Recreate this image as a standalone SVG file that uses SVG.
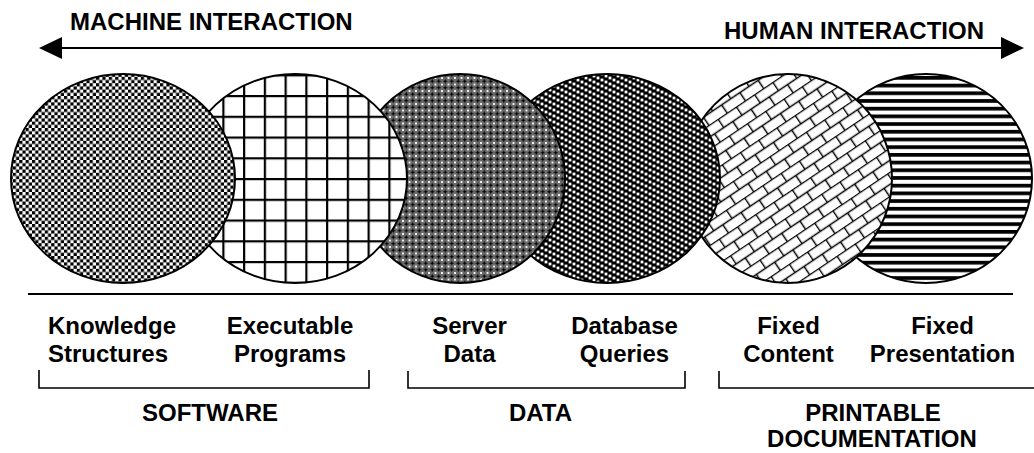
<svg xmlns="http://www.w3.org/2000/svg" width="1034" height="453" viewBox="0 0 1034 453">
<style>
text { font-family: "Liberation Sans", Arial, sans-serif; font-weight: bold; font-size: 24px; fill: #000; }
.mid { text-anchor: middle; }
.disc { stroke: #000; stroke-width: 2; }
.rule { stroke: #000; stroke-width: 2; fill: none; }
.brk { stroke: #000; stroke-width: 1.6; fill: none; }
</style>
<defs>
<marker id="ah" markerUnits="userSpaceOnUse" markerWidth="23" markerHeight="22" viewBox="0 0 23 22" refX="17" refY="11" orient="auto-start-reverse">
<path d="M0,0 L23,11 L0,22 Z" fill="#000"/>
</marker>
<pattern id="pChecker" patternUnits="userSpaceOnUse" x="0" y="0" width="6.4" height="6.4">
<rect width="6.4" height="6.4" fill="#fff"/>
<rect width="3.2" height="3.2" fill="#000"/>
<rect x="3.2" y="3.2" width="3.2" height="3.2" fill="#000"/>
</pattern>
<pattern id="pGrid" patternUnits="userSpaceOnUse" x="222.3" y="95" width="20.75" height="20.75">
<rect width="20.75" height="20.75" fill="#fff"/>
<rect width="2.2" height="20.75" fill="#000"/>
<rect width="20.75" height="2.2" fill="#000"/>
</pattern>
<pattern id="pStar" patternUnits="userSpaceOnUse" x="0" y="0" width="6.5" height="6.5">
<rect width="6.5" height="6.5" fill="#6a6a6a"/>
<polygon points="3.25,0.6 4.0,2.5 5.9,3.25 4.0,4.0 3.25,5.9 2.5,4.0 0.6,3.25 2.5,2.5" fill="#000"/>
<rect x="0" y="0" width="0.9" height="0.9" fill="#fff"/>
<rect x="5.6" y="0" width="0.9" height="0.9" fill="#fff"/>
<rect x="0" y="5.6" width="0.9" height="0.9" fill="#fff"/>
<rect x="5.6" y="5.6" width="0.9" height="0.9" fill="#fff"/>
</pattern>
<pattern id="pDots" patternUnits="userSpaceOnUse" x="0" y="0" width="12" height="6">
<rect width="12" height="6" fill="#000"/>
<rect x="0.6" y="0.6" width="2.8" height="2.8" fill="#fff"/>
<rect x="4.6" y="2.6" width="2.8" height="2.8" fill="#fff"/>
<rect x="8.6" y="4.6" width="2.8" height="2.8" fill="#fff"/>
<rect x="8.6" y="-1.4" width="2.8" height="2.8" fill="#fff"/>
</pattern>
<pattern id="pBrick" patternUnits="userSpaceOnUse" x="0" y="0" width="22" height="20" patternTransform="rotate(-34)">
<rect width="22" height="20" fill="#fff"/>
<path d="M0,0.6 H22 M0,10.6 H22 M0.6,0 V10.6 M11.6,10.6 V20" stroke="#000" stroke-width="1.5" fill="none"/>
</pattern>
<pattern id="pStripe" patternUnits="userSpaceOnUse" x="0" y="76" width="10" height="7.7">
<rect width="10" height="7.7" fill="#fff"/>
<rect width="10" height="3.7" fill="#000"/>
</pattern>
</defs>

<g id="connectors">
<line x1="45" y1="48" x2="1018" y2="48" stroke="#000" stroke-width="2" marker-start="url(#ah)" marker-end="url(#ah)"/>
</g>

<g id="axis-labels">
<text x="70" y="30">MACHINE INTERACTION</text>
<text x="724" y="39">HUMAN INTERACTION</text>
</g>

<g id="node-fixed-presentation">
<ellipse class="disc" cx="926" cy="178.5" rx="106" ry="104.5" fill="url(#pStripe)"/>
<text class="mid" x="942.5" y="334">Fixed</text>
<text class="mid" x="942.5" y="362">Presentation</text>
</g>
<g id="node-fixed-content">
<ellipse class="disc" cx="788" cy="178.5" rx="104" ry="104.5" fill="url(#pBrick)"/>
<text class="mid" x="788.5" y="334">Fixed</text>
<text class="mid" x="788.5" y="362">Content</text>
</g>
<g id="node-database-queries">
<ellipse class="disc" cx="607" cy="178.5" rx="113" ry="104.5" fill="url(#pDots)"/>
<text class="mid" x="624.5" y="334">Database</text>
<text class="mid" x="624.5" y="362">Queries</text>
</g>
<g id="node-server-data">
<ellipse class="disc" cx="460" cy="178.5" rx="105" ry="104.5" fill="url(#pStar)"/>
<text class="mid" x="469.5" y="334">Server</text>
<text class="mid" x="469.5" y="362">Data</text>
</g>
<g id="node-executable-programs">
<ellipse class="disc" cx="295" cy="178.5" rx="112" ry="104.5" fill="url(#pGrid)"/>
<text class="mid" x="290" y="334">Executable</text>
<text class="mid" x="290" y="362">Programs</text>
</g>
<g id="node-knowledge-structures">
<ellipse class="disc" cx="123" cy="178.5" rx="112" ry="104.5" fill="url(#pChecker)"/>
<text x="48" y="334">Knowledge</text>
<text x="48" y="362">Structures</text>
</g>

<g id="separator">
<line class="rule" x1="28" y1="294" x2="1013" y2="294"/>
</g>

<g id="group-software">
<path class="brk" d="M39,370 V388 H369 V370"/>
<text class="mid" x="210" y="421">SOFTWARE</text>
</g>
<g id="group-data">
<path class="brk" d="M408,371 V388 H685 V371"/>
<text class="mid" x="540.5" y="421">DATA</text>
</g>
<g id="group-printable">
<path class="brk" d="M719,371 V388 H1034"/>
<text class="mid" x="873" y="421">PRINTABLE</text>
<text class="mid" x="872" y="447">DOCUMENTATION</text>
</g>
</svg>
